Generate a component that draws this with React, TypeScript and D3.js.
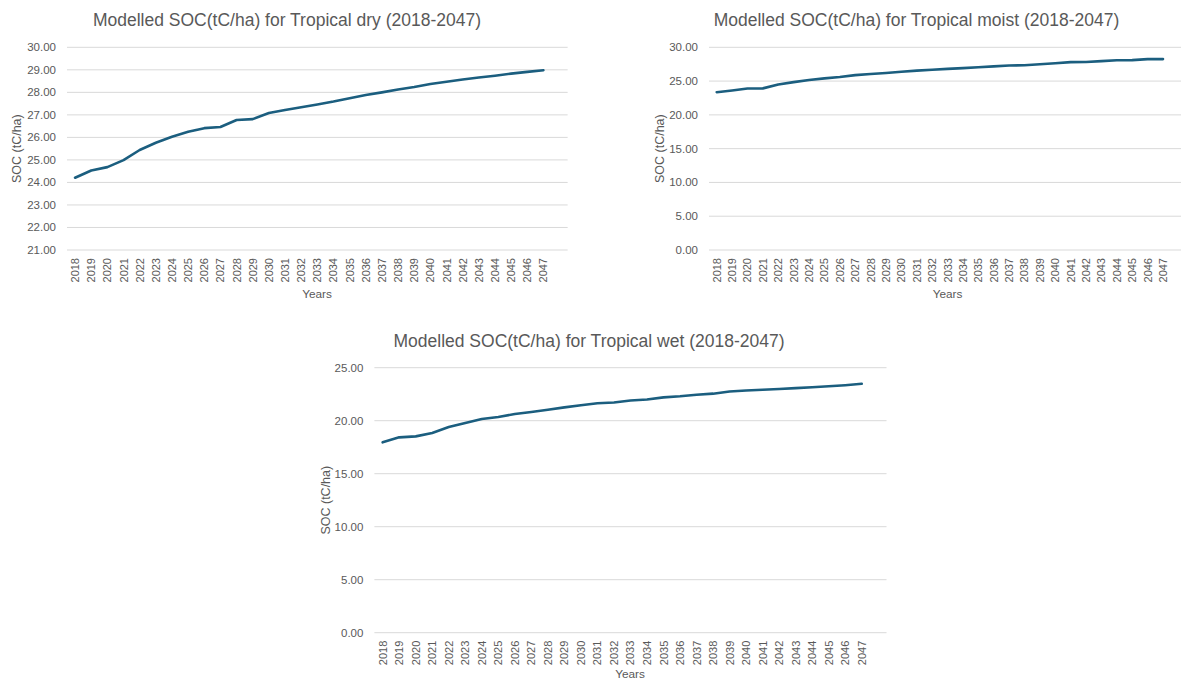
import React from "react";
import * as d3 from "d3";

const years: number[] = [
  2018, 2019, 2020, 2021, 2022, 2023, 2024, 2025, 2026, 2027,
  2028, 2029, 2030, 2031, 2032, 2033, 2034, 2035, 2036, 2037,
  2038, 2039, 2040, 2041, 2042, 2043, 2044, 2045, 2046, 2047,
];

const dryValues: number[] = [
  24.21, 24.53, 24.68, 24.99, 25.44, 25.76, 26.03, 26.25, 26.41, 26.46,
  26.77, 26.81, 27.08, 27.22, 27.34, 27.46, 27.59, 27.74, 27.88, 28.0,
  28.13, 28.24, 28.37, 28.47, 28.57, 28.66, 28.74, 28.83, 28.91, 28.98,
];

const moistValues: number[] = [
  23.35, 23.6, 23.9, 23.92, 24.5, 24.85, 25.15, 25.4, 25.6, 25.88,
  26.05, 26.2, 26.38, 26.55, 26.68, 26.8, 26.92, 27.05, 27.18, 27.3,
  27.35, 27.5, 27.65, 27.8, 27.82, 27.95, 28.08, 28.1, 28.25, 28.25,
];

const wetValues: number[] = [
  17.96, 18.43, 18.52, 18.84, 19.4, 19.78, 20.16, 20.35, 20.63, 20.82,
  21.04, 21.26, 21.45, 21.64, 21.72, 21.9, 22.0, 22.2, 22.3, 22.45,
  22.55, 22.75, 22.85, 22.92, 22.99, 23.07, 23.15, 23.25, 23.35, 23.48,
];

const dryTicks: number[] = [21, 22, 23, 24, 25, 26, 27, 28, 29, 30];
const moistTicks: number[] = [0, 5, 10, 15, 20, 25, 30];
const wetTicks: number[] = [0, 5, 10, 15, 20, 25];

const dryTitle = "Modelled SOC(tC/ha) for Tropical dry (2018-2047)";
const moistTitle = "Modelled SOC(tC/ha) for Tropical moist (2018-2047)";
const wetTitle = "Modelled SOC(tC/ha) for Tropical wet (2018-2047)";
const yTitle = "SOC (tC/ha)";
const xTitle = "Years";

const LINE = "#1b5e7f";
const GRID = "#d9d9d9";
const TEXT = "#595959";
const FONT = "'Liberation Sans', Arial, sans-serif";

type PanelProps = {
  values: number[];
  ticks: number[];
  title: string;
  left: number;
  top: number;
  bottom: number;
  step: number;
  titleX: number;
  titleY: number;
  yTitleX: number;
  xTitleX: number;
  xTitleY: number;
};

function Panel(p: PanelProps) {
  const n = years.length;
  const x = d3
    .scaleBand<number>()
    .domain(years)
    .range([p.left, p.left + p.step * n])
    .padding(0);
  const plotRight = p.left + p.step * (n + 1);
  const y = d3
    .scaleLinear()
    .domain([d3.min(p.ticks)!, d3.max(p.ticks)!])
    .range([p.bottom, p.top]);
  const line = d3
    .line<number>()
    .x((_, i) => x(years[i])! + x.bandwidth() / 2)
    .y((d) => y(d));
  return (
    <g>
      <text
        x={p.titleX}
        y={p.titleY}
        textAnchor="middle"
        fontSize={17.5}
        fill={TEXT}
        fontFamily={FONT}
      >
        {p.title}
      </text>
      {p.ticks.map((t) => (
        <g key={t}>
          <line
            x1={p.left}
            x2={plotRight}
            y1={y(t)}
            y2={y(t)}
            stroke={GRID}
            strokeWidth={1}
          />
          <text
            x={p.left - 11}
            y={y(t) + 4}
            textAnchor="end"
            fontSize={11.5}
            fill={TEXT}
            fontFamily={FONT}
          >
            {t.toFixed(2)}
          </text>
        </g>
      ))}
      {years.map((yr) => {
        const cx = x(yr)! + x.bandwidth() / 2;
        const ty = p.bottom + 8;
        return (
          <text
            key={yr}
            transform={`translate(${cx + 4},${ty}) rotate(-90)`}
            textAnchor="end"
            fontSize={11}
            fill={TEXT}
            fontFamily={FONT}
          >
            {yr}
          </text>
        );
      })}
      <path
        d={line(p.values) || ""}
        fill="none"
        stroke={LINE}
        strokeWidth={2.6}
        strokeLinejoin="round"
        strokeLinecap="round"
      />
      <text
        transform={`translate(${p.yTitleX},${(p.top + p.bottom) / 2}) rotate(-90)`}
        textAnchor="middle"
        fontSize={12.5}
        fill={TEXT}
        fontFamily={FONT}
      >
        {yTitle}
      </text>
      <text
        x={p.xTitleX}
        y={p.xTitleY}
        textAnchor="middle"
        fontSize={11.8}
        fill={TEXT}
        fontFamily={FONT}
      >
        {xTitle}
      </text>
    </g>
  );
}

export default function App() {
  return (
    <svg
      width={1181}
      height={682}
      style={{ position: "absolute", left: 0, top: 0, background: "#fff" }}
    >
      <rect x={0} y={0} width={1181} height={682} fill="#fff" />
      <Panel
        values={dryValues}
        ticks={dryTicks}
        title={dryTitle}
        left={67}
        top={47.3}
        bottom={250}
        step={16.15}
        titleX={287}
        titleY={26}
        yTitleX={21}
        xTitleX={317}
        xTitleY={298}
      />
      <Panel
        values={moistValues}
        ticks={moistTicks}
        title={moistTitle}
        left={709}
        top={47.3}
        bottom={250}
        step={15.39}
        titleX={916.5}
        titleY={26}
        yTitleX={664}
        xTitleX={947.5}
        xTitleY={298}
      />
      <Panel
        values={wetValues}
        ticks={wetTicks}
        title={wetTitle}
        left={374.4}
        top={367.7}
        bottom={632.7}
        step={16.52}
        titleX={589}
        titleY={346.5}
        yTitleX={330}
        xTitleX={630}
        xTitleY={678}
      />
    </svg>
  );
}
